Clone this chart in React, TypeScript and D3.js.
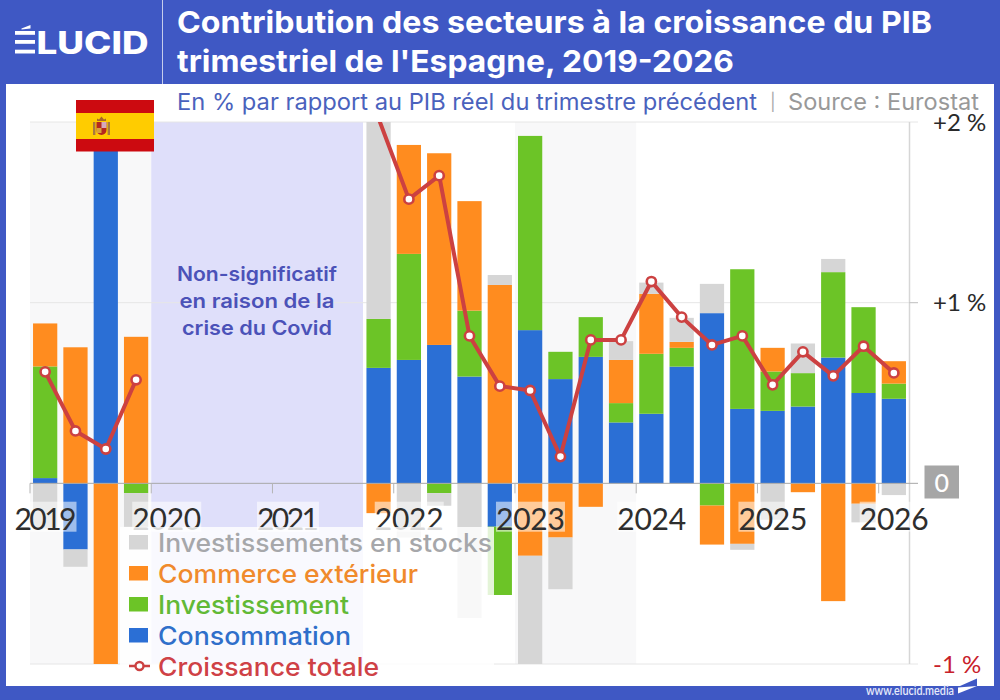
import React from "react";
import * as d3 from "d3";

const quarters = ["2019T1","2019T2","2019T3","2019T4","2020T1","2020T2","2020T3","2020T4","2021T1","2021T2","2021T3","2021T4","2022T1","2022T2","2022T3","2022T4","2023T1","2023T2","2023T3","2023T4","2024T1","2024T2","2024T3","2024T4","2025T1","2025T2","2025T3","2025T4","2026T1"];
const consommation = [0.029,-0.366,2.3,0,0,0,0,0,0,0,0,0.639,0.683,0.766,0.591,-0.24,0.848,0.577,0.7,0.337,0.385,0.646,0.942,0.412,0.401,0.425,0.696,0.5,0.468];
const investissement = [0.618,0,0,-0.054,0,0,0,0,0,0,0,0.271,0.587,-0.054,0.365,-0.378,1.075,0.151,0.22,0.107,0.332,0.104,-0.123,0.773,0.218,0.185,0.473,0.475,0.084];
const commerce = [0.238,0.753,-2.1,0.811,0,0,0,0,0,0,0,-0.165,0.603,1.061,0.606,1.098,-0.401,-0.3,-0.13,0.239,0.332,0.033,-0.216,-0.335,0.131,-0.049,-0.652,-0.113,0.124];
const stocks = [-0.25,-0.096,0,-0.187,0,0,0,0,0,0,0,1.275,-0.3,-0.07,-0.746,0.055,-1.008,-0.286,0,0.104,0.062,0.133,0.162,-0.033,-0.202,0.164,0.073,-0.103,-0.065];
const total: (number | null)[] = [0.617,0.29,0.19,0.573,null,null,null,null,null,null,null,2.02,1.573,1.703,0.816,0.538,0.514,0.148,0.794,0.794,1.117,0.92,0.766,0.816,0.545,0.728,0.595,0.759,0.611];
const years = [2019,2020,2021,2022,2023,2024,2025,2026];
const yTicks = [{ v: 2, t: "+2 %" }, { v: 1, t: "+1 %" }, { v: -1, t: "-1 %" }];
const seriesKeys = ["consommation","investissement","commerce","stocks"];
const seriesColors: Record<string,string> = { consommation:"#2b6fd5", investissement:"#6cc427", commerce:"#ff8c1f", stocks:"#d6d6d6" };
const legendItems = [
  { t:"Investissements en stocks", c:"#d6d6d6", tc:"#a6a7aa", w:334 },
  { t:"Commerce extérieur", c:"#ff8c1f", tc:"#f08a2c", w:260 },
  { t:"Investissement", c:"#6cc427", tc:"#62b936", w:191 },
  { t:"Consommation", c:"#2b6fd5", tc:"#2f6fca", w:193 },
];
const FONT = "Lato, 'Open Sans', sans-serif";
const WIDE = "Inter, Lato, sans-serif";
const BLUE = "#3f58c4";
const RED = "#cc4141";

const x = d3.scaleBand<string>().domain(quarters).range([30, 909]).paddingInner(0.2).paddingOuter(0.1);
const y = d3.scaleLinear().domain([-1, 2]).range([664, 122]);
const xYear = (yr: number) => x(`${yr}T1`)! - x.step() * 0.1;
const cx = (i: number) => x(quarters[i])! + x.bandwidth() / 2;

const rows = quarters.map((q, i) => ({ q, consommation: consommation[i], investissement: investissement[i], commerce: commerce[i], stocks: stocks[i] }));
const stacked = d3.stack<any>().keys(seriesKeys).offset(d3.stackOffsetDiverging)(rows);
const line = d3.line<number | null>().defined(d => d !== null).x((_, i) => cx(i)).y(d => y(d as number));

export default function App() {
  return (
    <svg width={1000} height={700} style={{ position: "fixed", left: 0, top: 0, fontFamily: FONT }}>
      <defs>
        <clipPath id="plot"><rect x={30} y={122} width={879} height={542} /></clipPath>
      </defs>
      <rect width={1000} height={700} fill={BLUE} />
      <rect x={6} y={84} width={988} height={602} fill="#fff" />
      <line x1={162.5} x2={162.5} y1={0} y2={84} stroke="#c5cdec" />

      {/* header */}
      <g fill="#fff">
        <polygon points="21.5,28.5 30.5,25 30.5,28.5 21.5,29.5" />
        <rect x={15} y={31} width={20} height={3.8} />
        <rect x={15} y={40} width={20} height={3.8} />
        <rect x={15} y={49.7} width={20} height={3.8} />
        <text x={36.5} y={53.5} fontSize={31} fontWeight={800} fontFamily={WIDE} textLength={112} lengthAdjust="spacingAndGlyphs">LUCID</text>
      </g>
      <g fontFamily={WIDE} fontSize={30.5} fontWeight={700} fill="#fff">
        <text x={177} y={33} textLength={755} lengthAdjust="spacingAndGlyphs">Contribution des secteurs à la croissance du PIB</text>
        <text x={177} y={72} textLength={557} lengthAdjust="spacingAndGlyphs">trimestriel de l'Espagne, 2019-2026</text>
      </g>
      <g fontFamily={WIDE} fontSize={23}>
        <text x={177} y={110} fill="#4a62bd" textLength={580} lengthAdjust="spacingAndGlyphs">En % par rapport au PIB réel du trimestre précédent</text>
        <text x={770} y={108} fontSize={17} fill="#aaa">|</text>
        <text x={788} y={110} fill="#999" textLength={191} lengthAdjust="spacingAndGlyphs">Source : Eurostat</text>
      </g>

      {/* bands */}
      <rect x={xYear(2019)} y={122} width={xYear(2020) - xYear(2019)} height={542} fill="#f8f8f9" />
      <rect x={xYear(2020)} y={122} width={363 - xYear(2020)} height={542} fill="#dfdffa" />
      <rect x={xYear(2023)} y={122} width={xYear(2024) - xYear(2023)} height={542} fill="#f8f8f9" />

      {/* grid */}
      {yTicks.map(t => (
        <line key={t.v} x1={30} x2={918} y1={y(t.v)} y2={y(t.v)} stroke="#e6e6e6" strokeWidth={1} />
      ))}

      {/* bars */}
      <g clipPath="url(#plot)">
        {stacked.map(s => (
          <g key={s.key} fill={seriesColors[s.key]}>
            {s.map((d, i) => (
              <rect key={i} x={x(quarters[i])} width={x.bandwidth()} y={y(Math.max(d[0], d[1]))} height={Math.abs(y(d[0]) - y(d[1]))} />
            ))}
          </g>
        ))}
      </g>

      {/* axes */}
      <line x1={909.5} x2={909.5} y1={122} y2={664} stroke="#d6d6d6" strokeWidth={1.5} />
      <line x1={30} x2={918} y1={y(0)} y2={y(0)} stroke="#a8a8a8" strokeWidth={1} />
      {years.map(yr => (
        <line key={yr} x1={xYear(yr)} x2={xYear(yr)} y1={y(0)} y2={y(0) + 10} stroke="#b5b5b5" strokeWidth={1} />
      ))}
      <line x1={909} x2={918} y1={y(1)} y2={y(1)} stroke="#c5c5c5" />

      {/* year labels */}
      {years.map(yr => {
        const w = String(yr).includes("1") ? 62 : 69;
        return (
          <g key={yr}>
            <rect x={xYear(yr) + 15.5 - w / 2} y={501.7} width={w} height={30} fill="#fff" fillOpacity={0.55} />
            <text x={xYear(yr) + 15.5} y={530} fontSize={30} fill="#2e2e2e" textAnchor="middle" textLength={w} lengthAdjust="spacing">{yr}</text>
          </g>
        );
      })}

      {/* total line */}
      <g clipPath="url(#plot)">
        <path d={line(total) ?? ""} fill="none" stroke={RED} strokeWidth={4} strokeLinejoin="round" />
      </g>
      {total.map((v, i) => v !== null && y(v) > 122 ? (
        <circle key={i} cx={cx(i)} cy={y(v)} r={4.6} fill="#fff" stroke={RED} strokeWidth={2.6} />
      ) : null)}

      {/* y labels */}
      {yTicks.map(t => (
        <text key={t.v} x={933} y={y(t.v) + 8.5} fontSize={24} fill={t.v < 0 ? "#c8202a" : "#2a2a2a"}>{t.t}</text>
      ))}
      <rect x={924.5} y={465.5} width={34.5} height={33} fill="#a6a6a6" />
      <text x={941.7} y={491.5} fontSize={25} fill="#fff" fontWeight={500} textAnchor="middle">0</text>

      {/* annotation */}
      <g fontFamily={WIDE} fontSize={20} fontWeight={600} fill="#4b52b8" textAnchor="middle">
        <text x={257} y={281} textLength={160} lengthAdjust="spacingAndGlyphs">Non-significatif</text>
        <text x={257} y={308} textLength={155} lengthAdjust="spacingAndGlyphs">en raison de la</text>
        <text x={257} y={335} textLength={150} lengthAdjust="spacingAndGlyphs">crise du Covid</text>
      </g>

      {/* flag */}
      <g>
        <rect x={76} y={100} width={78} height={51.5} fill="#cc0a10" />
        <rect x={76} y={113} width={78} height={26} fill="#ffcc00" />
        <path d="M96.5,122 h10 v8 a5,5 0 0 1 -10,0 z" fill="#b5281e" />
        <rect x={101.5} y={122} width={5} height={6} fill="#d6a8bc" />
        <rect x={96.5} y={128} width={5} height={5} fill="#d8a23a" />
        <rect x={93} y={122} width={2.4} height={13} fill="#a87a40" />
        <rect x={107.6} y={122} width={2.4} height={13} fill="#a87a40" />
        <path d="M97,121 v-2.5 l2,1 l2.5,-3 l2.5,3 l2,-1 v2.5 z" fill="#a8672a" />
      </g>

      {/* legend */}
      <rect x={120} y={527} width={374} height={153} fill="#fff" fillOpacity={0.82} />
      {legendItems.map((l, i) => (
        <g key={l.t}>
          <rect x={129} y={535 + i * 31} width={19} height={14.5} fill={l.c} />
          <text x={158} y={552 + i * 31} fontFamily={WIDE} fontSize={25} fontWeight={500} fill={l.tc} textLength={l.w} lengthAdjust="spacingAndGlyphs">{l.t}</text>
        </g>
      ))}
      <line x1={129} x2={150} y1={666} y2={666} stroke={RED} strokeWidth={2.5} />
      <circle cx={139.5} cy={666} r={4} fill="#fff" stroke={RED} strokeWidth={2.4} />
      <text x={158} y={676} fontFamily={WIDE} fontSize={25} fontWeight={500} fill="#cf4146" textLength={221} lengthAdjust="spacingAndGlyphs">Croissance totale</text>

      {/* footer */}
      <text x={866} y={695} fontSize={13} fontWeight={600} fill="#e6eafa" textLength={88} lengthAdjust="spacingAndGlyphs">www.elucid.media</text>
      <polygon points="960,686 977,678.5 977,686" fill={BLUE} />
      <polygon points="958,687.5 977,686 958,693.5" fill="#fff" />
    </svg>
  );
}
